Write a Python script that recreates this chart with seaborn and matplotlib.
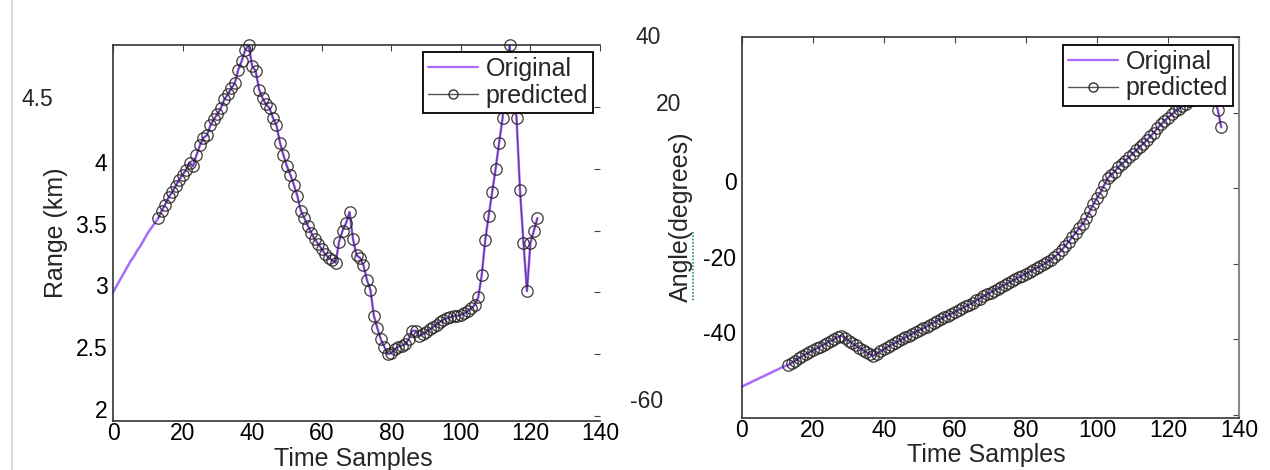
import numpy as np
import pandas as pd
import matplotlib
matplotlib.use("Agg")
import matplotlib.pyplot as plt
import matplotlib.transforms as mtransforms
from matplotlib.lines import Line2D
import seaborn as sns

# ---------------- data ----------------
# Range (km): original track samples 0..12 (before prediction starts)
range_original_head = [3.00, 3.05, 3.10, 3.15, 3.20, 3.25, 3.29, 3.34, 3.38,
                       3.43, 3.48, 3.52, 3.56]
# Range (km): predicted samples 13..122
range_predicted = [
    3.60, 3.66, 3.71, 3.77, 3.81, 3.86, 3.91, 3.95, 3.99, 4.05,
    4.02, 4.11, 4.19, 4.25, 4.27, 4.35, 4.40, 4.44, 4.49, 4.56,
    4.60, 4.65, 4.69, 4.80, 4.87, 4.96, 5.00, 4.83, 4.79, 4.64,
    4.57, 4.52, 4.49, 4.41, 4.35, 4.21, 4.11, 4.02, 3.95, 3.87,
    3.78, 3.66, 3.60, 3.54, 3.48, 3.43, 3.39, 3.35, 3.31, 3.28,
    3.26, 3.24, 3.41, 3.50, 3.56, 3.65, 3.43, 3.30, 3.28, 3.22,
    3.10, 3.02, 2.81, 2.71, 2.62, 2.56, 2.50, 2.51, 2.54, 2.56,
    2.57, 2.58, 2.62, 2.69, 2.69, 2.65, 2.66, 2.68, 2.70, 2.72,
    2.74, 2.76, 2.78, 2.79, 2.80, 2.81, 2.81, 2.82, 2.83, 2.85,
    2.87, 2.90, 2.96, 3.14, 3.42, 3.62, 3.81, 4.00, 4.21, 4.41,
    4.70, 5.00, 4.70, 4.41, 3.83, 3.40, 3.01, 3.40, 3.50, 3.60,
]
# Angle (degrees): original samples 0..12
angle_original_head = [-52.5, -52.0, -51.6, -51.1, -50.7, -50.2, -49.8, -49.3,
                       -48.9, -48.4, -48.0, -47.5, -47.1]
# Angle (degrees): predicted samples 13..135
angle_predicted = [
    -46.8, -46.2, -45.6, -45.0, -44.4, -43.9, -43.4, -42.9, -42.4, -41.9,
    -41.4, -40.9, -40.4, -39.9, -39.4, -39.0, -39.6, -40.3, -41.0, -41.6,
    -42.2, -42.8, -43.4, -43.9, -44.3, -43.8, -43.2, -42.6, -42.0, -41.5,
    -41.0, -40.5, -40.0, -39.5, -39.0, -38.5, -38.0, -37.5, -37.1, -36.6,
    -36.1, -35.6, -35.1, -34.6, -34.1, -33.7, -33.2, -32.7, -32.2, -31.8,
    -31.3, -30.8, -30.3, -29.7, -29.2, -28.6, -28.1, -27.6, -27.1, -26.6,
    -26.1, -25.6, -25.1, -24.6, -24.1, -23.6, -23.1, -22.6, -22.1, -21.6,
    -21.1, -20.6, -20.1, -19.5, -18.9, -18.2, -17.4, -16.4, -15.3, -14.2,
    -13.0, -11.8, -10.6, -9.4, -7.9, -6.0, -4.2, -2.6, -1.1, 0.8,
    2.6, 3.6, 4.4, 5.6, 6.4, 7.3, 8.2, 9.1, 10.0, 10.9,
    11.8, 12.7, 13.7, 14.7, 15.8, 16.9, 17.8, 18.7, 19.5, 20.3,
    21.0, 21.7, 22.4, 23.0, 23.6, 24.2, 24.8, 25.3, 25.8, 26.0,
    23.8, 20.8, 16.1,
]
prediction_start = 13

x_ticks = [0, 20, 40, 60, 80, 100, 120, 140]
range_ticks = [2, 2.5, 3, 3.5, 4, 4.5]
range_tick_labels = ["2", "2.5", "3", "3.5", "4", ""]
angle_ticks = [-60, -40, -20, 0, 20, 40]
angle_tick_labels = ["", "-40", "-20", "0", "", ""]
legend_labels = ["Original", "predicted"]
x_label = "Time Samples"
range_label = "Range (km)"
angle_label = "Angle(degrees)"

# ---------------- style ----------------
sns.set_style("white")
plt.rcParams["font.family"] = ["Liberation Sans", "DejaVu Sans"]

PURPLE = "#a66bff"
DARK = "#222222"
TICK_FS = 16.5

W, H = 1270, 470
fig = plt.figure(figsize=(W / 100, H / 100), dpi=100)
ax1 = fig.add_axes([113 / W, 1 - 421 / H, 487 / W, 376 / H])
ax2 = fig.add_axes([742 / W, 1 - 418 / H, 497 / W, 381 / H])


def make_frames(head, pred):
    full = head + pred
    orig = pd.DataFrame({"t": np.arange(len(full)), "v": full})
    p = pd.DataFrame({"t": np.arange(prediction_start, prediction_start + len(pred)), "v": pred})
    return orig, p


def draw(ax, head, pred):
    orig, p = make_frames(head, pred)
    sns.lineplot(data=orig, x="t", y="v", ax=ax, color=PURPLE, linewidth=1.8,
                 clip_on=False, legend=False)
    sns.lineplot(data=p, x="t", y="v", ax=ax, color="#3a2060", linewidth=0.8,
                 alpha=0.7, clip_on=False, legend=False)
    sns.lineplot(data=p, x="t", y="v", ax=ax, linestyle="none", marker="o",
                 markersize=8.2, markerfacecolor="none", markeredgecolor=DARK,
                 markeredgewidth=0.95, alpha=0.85, clip_on=False, legend=False)
    handles = [
        Line2D([], [], color=PURPLE, linewidth=1.6),
        Line2D([], [], color="#555555", linewidth=1.0, marker="o", markersize=6.5,
               markerfacecolor="none", markeredgecolor="#333333"),
    ]
    return handles


h1 = draw(ax1, range_original_head, range_predicted)
h2 = draw(ax2, angle_original_head, angle_predicted)

up = mtransforms.ScaledTranslation(0, 7 / 100, fig.dpi_scale_trans)

for ax, yt, ytl, ylim in [
    (ax1, range_ticks, range_tick_labels, (1.96, 5.0)),
    (ax2, angle_ticks, angle_tick_labels, (-60.8, 40)),
]:
    ax.set_xlim(0, 140)
    ax.set_ylim(*ylim)
    ax.set_xticks(x_ticks)
    ax.set_yticks(yt)
    ax.set_yticklabels(ytl)
    ax.tick_params(axis="both", direction="in", length=4, width=0.8,
                   top=True, right=True, labelsize=TICK_FS, colors="#444444",
                   labelcolor="black")
    ax.tick_params(axis="x", pad=0.8)
    ax.tick_params(axis="y", pad=4.0)
    for lab in ax.get_yticklabels():
        lab.set_transform(lab.get_transform() + up)
    for s in ["left", "bottom", "top"]:
        ax.spines[s].set_color("#333333")
        ax.spines[s].set_linewidth(1.2)
    ax.set_xlabel(x_label, fontsize=18)

ax1.spines["right"].set_visible(False)
ax2.spines["right"].set_visible(True)
ax2.spines["right"].set_color("#888888")
ax2.spines["right"].set_linewidth(1.5)

ax1.set_ylabel(range_label, fontsize=18)
ax2.set_ylabel(angle_label, fontsize=18)
ax1.yaxis.set_label_coords(-0.092, 0.5)
ax2.yaxis.set_label_coords(-0.099, 0.527)
ax1.xaxis.set_label_coords(0.494, -0.069)
ax2.xaxis.set_label_coords(0.491, -0.066)

leg_kw = dict(loc="upper right", borderaxespad=0, fontsize=18, frameon=True,
              fancybox=False, framealpha=1, edgecolor="black", borderpad=0.2,
              labelspacing=0.1, handlelength=2.0, handletextpad=0.3)
lg1 = ax1.legend(h1, legend_labels, bbox_to_anchor=((593 - 113) / 487, (421 - 52) / 376), **leg_kw)
lg2 = ax2.legend(h2, legend_labels, bbox_to_anchor=((1233 - 742) / 497, (418 - 45) / 381), **leg_kw)
for lg in (lg1, lg2):
    lg.get_frame().set_linewidth(1.3)
    lg.set_zorder(10)

# stray tick labels of the scanned original
fig.text(53 / W, 1 - 100 / H, "4.5", ha="right", va="center", fontsize=TICK_FS)
fig.text(661 / W, 1 - 37 / H, "40", ha="right", va="center", fontsize=TICK_FS)
fig.text(681 / W, 1 - 105 / H, "20", ha="right", va="center", fontsize=TICK_FS)
fig.text(663 / W, 1 - 401 / H, "-60", ha="right", va="center", fontsize=TICK_FS)

# page border line and spell-check squiggle
fig.add_artist(Line2D([12 / W, 12 / W], [0, 1], color="#d9d9d9", linewidth=1.5,
                      transform=fig.transFigure))
fig.add_artist(Line2D([693 / W, 693 / W], [1 - 232 / H, 1 - 302 / H], color="#2a9a4a",
                      linewidth=1.2, linestyle=(0, (1, 1)), transform=fig.transFigure))

fig.savefig("out.png", dpi=100)
